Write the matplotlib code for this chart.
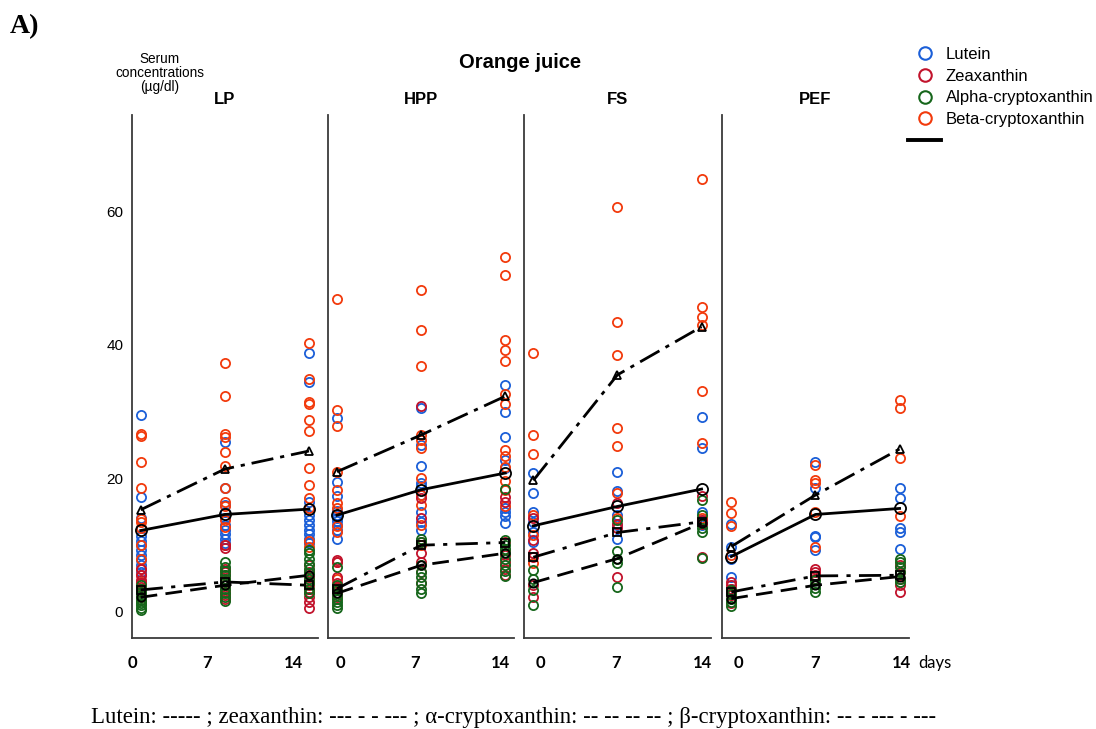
import numpy as np
import matplotlib
matplotlib.use("Agg")
import matplotlib.pyplot as plt
from matplotlib.lines import Line2D

# ---------------- data ----------------
panels = ["LP", "HPP", "FS", "PEF"]
days = [0, 7, 14]
tick_labels = ["0", "7", "14"]
carotenoids = ["Lutein", "Zeaxanthin", "Alpha-cryptoxanthin", "Beta-cryptoxanthin"]

# individual serum values (µg/dl) per panel -> per day
lutein_pts = {
    "LP": [[29.5, 17.2, 14.0, 12.5, 11.3, 10.6, 10.0, 9.3, 8.5, 7.8, 7.0, 6.0],
           [25.5, 18.5, 16.0, 15.0, 14.0, 13.0, 12.3, 11.6, 11.0, 10.3],
           [38.8, 34.5, 16.5, 14.5, 13.8, 13.0, 12.3, 11.6, 11.0, 10.3]],
    "HPP": [[29.0, 19.5, 17.3, 15.1, 14.5, 14.0, 13.6, 13.0, 12.2, 11.0],
            [30.5, 25.0, 21.8, 19.3, 18.8, 17.5, 15.0, 13.5, 12.3],
            [34.0, 30.0, 26.2, 22.8, 21.5, 15.5, 15.0, 14.3, 13.3]],
    "FS": [[20.8, 17.8, 15.0, 13.5, 12.0, 10.5],
           [20.9, 18.1, 14.5, 13.0, 11.0],
           [29.2, 24.5, 15.0, 13.5, 13.0]],
    "PEF": [[13.2, 9.8, 8.0, 5.3, 3.5],
            [22.4, 18.5, 11.4, 11.2, 9.3],
            [18.5, 17.0, 12.6, 12.0, 9.5]],
}
zeaxanthin_pts = {
    "LP": [[6.5, 5.5, 4.8, 4.3, 3.8, 3.4, 3.0, 2.6, 2.2, 1.8],
           [10.0, 9.6, 6.5, 6.0, 5.5, 5.0, 4.5, 4.0, 3.5, 3.0, 2.5, 2.0],
           [7.0, 6.0, 5.2, 4.5, 4.0, 3.5, 3.0, 2.2, 1.5, 0.6]],
    "HPP": [[7.8, 7.5, 5.3, 4.3, 3.8, 3.3, 2.8, 2.2],
            [30.8, 17.0, 14.0, 10.5, 8.8, 7.5, 6.0, 4.3],
            [17.2, 16.5, 10.5, 9.3, 8.5, 7.5, 6.5, 5.5]],
    "FS": [[14.0, 10.8, 8.8, 8.3, 4.0, 2.3],
           [16.3, 13.1, 12.5, 5.3],
           [17.4, 13.8, 13.2, 8.3]],
    "PEF": [[4.5, 4.0, 3.5, 3.0, 2.5, 1.3],
            [6.5, 6.0, 5.6, 5.0],
            [7.0, 6.0, 5.0, 4.0, 3.0]],
}
alpha_pts = {
    "LP": [[4.0, 3.5, 3.0, 2.6, 2.2, 1.8, 1.4, 1.0, 0.6, 0.3],
           [7.5, 6.8, 6.2, 5.6, 5.0, 4.5, 4.0, 3.4, 2.8, 2.2, 1.6],
           [9.3, 8.8, 8.0, 7.2, 6.5, 5.8, 5.0, 4.3, 3.5, 2.8]],
    "HPP": [[6.8, 4.0, 3.3, 2.6, 2.0, 1.5, 1.0, 0.6],
            [11.0, 10.5, 7.0, 6.0, 5.2, 4.3, 3.5, 2.8],
            [18.4, 10.8, 10.1, 9.5, 8.8, 8.0, 7.0, 6.2, 5.4]],
    "FS": [[6.3, 5.0, 3.3, 1.1],
           [13.8, 9.1, 8.0, 7.3, 3.8],
           [16.8, 14.5, 12.5, 11.9, 8.1]],
    "PEF": [[3.3, 2.7, 2.0, 1.5, 0.9],
            [4.8, 4.2, 3.6, 3.0],
            [8.0, 7.5, 6.8, 6.0, 5.0, 4.5]],
}
beta_pts = {
    "LP": [[26.6, 26.4, 22.5, 18.5, 13.9, 13.5, 12.5, 10.0, 8.0, 6.5, 5.5, 4.5],
           [37.3, 32.3, 26.7, 26.2, 24.0, 21.9, 18.5, 16.5, 15.8, 13.7, 12.7, 10.0],
           [40.3, 34.9, 31.5, 31.1, 28.7, 27.1, 21.5, 19.0, 17.0, 15.5, 10.7, 9.8]],
    "HPP": [[46.8, 30.2, 27.8, 21.0, 18.3, 16.3, 15.6, 12.8, 12.0, 7.5, 5.0],
            [48.2, 42.2, 36.8, 26.5, 25.8, 24.6, 20.0, 17.5, 16.0, 13.0, 10.0],
            [53.1, 50.4, 40.7, 39.2, 37.5, 32.7, 31.1, 24.3, 23.3, 21.7, 19.6, 18.2, 15.8]],
    "FS": [[38.8, 26.5, 23.6, 14.5, 11.5, 7.3],
           [60.7, 43.4, 38.4, 27.5, 24.9, 17.8, 14.0],
           [64.8, 45.7, 44.2, 43.0, 33.1, 25.3, 14.1]],
    "PEF": [[16.5, 14.8, 12.8, 8.5, 3.0],
            [22.0, 19.8, 19.3, 14.9, 9.8],
            [31.7, 30.5, 23.1, 14.3]],
}

# group means (µg/dl)
lutein_mean = {"LP": [12.2, 14.6, 15.4], "HPP": [14.5, 18.3, 20.8],
               "FS": [12.9, 15.8, 18.4], "PEF": [8.3, 14.6, 15.5]}
zeaxanthin_mean = {"LP": [3.3, 4.5, 4.0], "HPP": [3.5, 10.0, 10.4],
                   "FS": [8.2, 11.9, 13.5], "PEF": [3.0, 5.4, 5.5]}
alpha_mean = {"LP": [2.2, 4.0, 5.5], "HPP": [2.8, 7.0, 8.8],
              "FS": [4.4, 8.0, 13.3], "PEF": [2.0, 4.0, 5.3]}
beta_mean = {"LP": [15.3, 21.4, 24.1], "HPP": [21.0, 26.5, 32.3],
             "FS": [19.7, 35.5, 42.7], "PEF": [9.8, 17.5, 24.4]}

y_ticks = [0, 20, 40, 60]

# ---------------- style / layout ----------------
W, H = 1096, 729
colors = {"Lutein": "#1b5fd8", "Zeaxanthin": "#c2132c",
          "Alpha-cryptoxanthin": "#16661b", "Beta-cryptoxanthin": "#f23a0c"}
panel_left_px = [131.7, 328.0, 524.3, 722.3]
panel_w_px = 186.3
ax_bottom_px, ax_top_px = 637.7, 115.0
xlim = (-0.75, 14.75)
ylim = (-3.85, 74.4)
# tick-label horizontal offsets (px from panel left) as placed in the original
tick_off_px = {"LP": [0.3, 75.3, 161.3], "HPP": [12, 87, 172],
               "FS": [16, 92, 178], "PEF": [16, 93, 179.5]}

fig = plt.figure(figsize=(W / 100, H / 100), dpi=100)
fig.patch.set_facecolor("white")

def fx(px):
    return px / W

def fy(py):
    return 1 - py / H

px_per_day = panel_w_px / (xlim[1] - xlim[0])

series = [("Lutein", lutein_pts), ("Beta-cryptoxanthin", beta_pts),
          ("Zeaxanthin", zeaxanthin_pts), ("Alpha-cryptoxanthin", alpha_pts)]
mean_series = [
    (lutein_mean, dict(ls="-", marker="o", ms=8)),
    (beta_mean, dict(ls=(0, (8, 2.5, 1.5, 2.5)), marker="^", ms=5.5)),
    (zeaxanthin_mean, dict(ls=(0, (8, 3, 1.5, 3)), marker="s", ms=6)),
    (alpha_mean, dict(ls=(0, (6, 3)), marker="o", ms=6)),
]

for i, p in enumerate(panels):
    ax = fig.add_axes([fx(panel_left_px[i]), fy(ax_bottom_px),
                       fx(panel_w_px), (ax_bottom_px - ax_top_px) / H])
    ax.set_xlim(*xlim)
    ax.set_ylim(*ylim)
    for sp in ["top", "right"]:
        ax.spines[sp].set_visible(False)
    for sp in ["left", "bottom"]:
        ax.spines[sp].set_color("#3a3a3a")
        ax.spines[sp].set_linewidth(1.3)

    for name, pts in series:
        for d, vals in zip(days, pts[p]):
            ax.plot(np.full(len(vals), d), vals, linestyle="none", marker="o",
                    ms=6.6, mfc="none", mec=colors[name], mew=1.3, zorder=2)

    for means, kw in mean_series:
        ax.plot(days, means[p], color="black", lw=2.0, mfc="none", mec="black",
                mew=1.3, zorder=3, **kw)

    xt = [xlim[0] + o / px_per_day for o in tick_off_px[p]]
    ax.set_xticks(xt)
    ax.set_xticklabels(tick_labels, fontfamily="Lato", fontweight="bold", fontsize=12)
    ax.tick_params(axis="x", length=0, pad=12.5)
    if i == 0:
        ax.set_yticks(y_ticks)
        ax.set_yticklabels([str(v) for v in y_ticks], fontfamily="Liberation Sans",
                           fontsize=11)
        ax.tick_params(axis="y", length=0, pad=6)
    else:
        ax.set_yticks([])
    fig.text(fx(panel_left_px[i] + panel_w_px / 2), fy(100), p, ha="center",
             va="center", fontfamily="Liberation Sans", fontweight="bold", fontsize=12)

fig.text(fx(918), fy(663), "days", ha="left", va="center", fontfamily="Lato",
         fontsize=12)
fig.text(fx(520), fy(62), "Orange juice", ha="center", va="center",
         fontfamily="Liberation Sans", fontweight="bold", fontsize=14.5)
fig.text(fx(160), fy(73), "Serum\nconcentrations\n(µg/dl)", ha="center", va="center",
         fontfamily="Liberation Sans", fontsize=9.8, linespacing=0.98)
fig.text(fx(10), fy(27), "A)", ha="left", va="center", fontfamily="Liberation Serif",
         fontweight="bold", fontsize=20)
fig.text(fx(514), fy(717),
         "Lutein: ----- ; zeaxanthin: --- - - --- ; \u03b1-cryptoxanthin: -- -- -- -- ; "
         "\u03b2-cryptoxanthin: -- - --- - ---",
         ha="center", va="center", fontfamily="Liberation Serif", fontsize=16.4)

handles = [Line2D([], [], ls="none", marker="o", ms=9, mfc="none",
                  mec=colors[c], mew=1.5) for c in carotenoids]
handles.append(Line2D([], [], color="black", lw=2.8))
fig.legend(handles, carotenoids + [""], loc="upper left",
           bbox_to_anchor=(fx(908), fy(47)), frameon=False, borderpad=0,
           borderaxespad=0, handlelength=2.0, handletextpad=0.25,
           labelspacing=0.4, prop={"family": "Liberation Sans", "size": 12})

fig.savefig("out.png", dpi=100, facecolor="white")
